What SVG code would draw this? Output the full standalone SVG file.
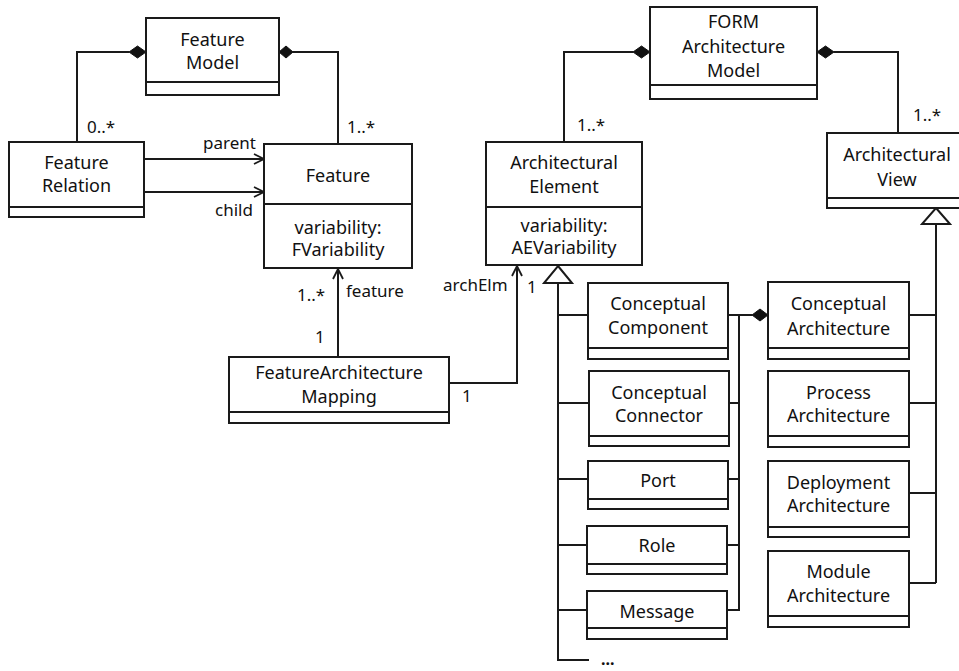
<svg xmlns="http://www.w3.org/2000/svg" width="959" height="671" viewBox="0 0 959 671">
<defs>
<style>
.box{fill:#fff;stroke:#1a1a1a;stroke-width:2}
.div{stroke:#1a1a1a;stroke-width:2}
.t{font-family:"Noto Sans","Open Sans",sans-serif;font-size:18px;fill:#111;text-anchor:middle}
.l{font-family:"Noto Sans","Open Sans",sans-serif;font-size:17px;fill:#111}
.c{fill:none;stroke:#1a1a1a;stroke-width:2}
.dia{fill:#111;stroke:#111;stroke-width:1}
.tri{fill:#fff;stroke:#1a1a1a;stroke-width:2}
</style>
<marker id="open" viewBox="0 0 12 12" refX="11" refY="6" markerWidth="12" markerHeight="12" markerUnits="userSpaceOnUse" orient="auto">
<path d="M1,1 L11,6 L1,11" fill="none" stroke="#1a1a1a" stroke-width="1.8"/>
</marker>
</defs>
<rect width="959" height="671" fill="#fff"/>

<g id="connectors">
<polygon class="dia" points="129,52 137.5,46 146,52 137.5,58"/>
<polyline class="c" points="129,52 77,52 77,142"/>
<polygon class="dia" points="279,52 286,46 293,52 286,58"/>
<polyline class="c" points="293,52 338,52 338,144"/>
<line class="c" x1="144" y1="159" x2="264" y2="159" marker-end="url(#open)"/>
<line class="c" x1="144" y1="192" x2="264" y2="192" marker-end="url(#open)"/>
<line class="c" x1="338" y1="357" x2="338" y2="269" marker-end="url(#open)"/>
<polyline class="c" points="449,383 517,383 517,266" marker-end="url(#open)"/>
<polygon class="dia" points="633,52 641.5,46 650,52 641.5,58"/>
<polyline class="c" points="633,52 564,52 564,142"/>
<polygon class="dia" points="817,52 825.5,46 834,52 825.5,58"/>
<polyline class="c" points="834,52 898,52 898,133"/>
<polyline class="c" points="558,283 558,660 589,660"/>
<line class="c" x1="558" y1="315" x2="588" y2="315"/>
<line class="c" x1="558" y1="403" x2="589" y2="403"/>
<line class="c" x1="558" y1="479" x2="588" y2="479"/>
<line class="c" x1="558" y1="545" x2="587" y2="545"/>
<line class="c" x1="558" y1="610" x2="587" y2="610"/>
<polygon class="tri" points="558,266 572,283 544,283"/>
<line class="c" x1="936" y1="224" x2="936" y2="583"/>
<line class="c" x1="909" y1="315" x2="936" y2="315"/>
<line class="c" x1="909" y1="403" x2="936" y2="403"/>
<line class="c" x1="909" y1="493" x2="936" y2="493"/>
<line class="c" x1="909" y1="583" x2="936" y2="583"/>
<polygon class="tri" points="936,208 950,224 922,224"/>
<line class="c" x1="728" y1="315" x2="752" y2="315"/>
<polygon class="dia" points="752,315 760,309 768,315 760,321"/>
<polyline class="c" points="739,315 739,610 727,610"/>
<line class="c" x1="729" y1="403" x2="739" y2="403"/>
<line class="c" x1="728" y1="479" x2="739" y2="479"/>
<line class="c" x1="727" y1="545" x2="739" y2="545"/>
<text class="l" x="87" y="133">0..*</text>
<text class="l" x="347" y="133">1..*</text>
<text class="l" x="203" y="149">parent</text>
<text class="l" x="215" y="216">child</text>
<text class="l" x="297" y="301">1..*</text>
<text class="l" x="346" y="297">feature</text>
<text class="l" x="315" y="343">1</text>
<text class="l" x="462" y="402">1</text>
<text class="l" x="443" y="291">archElm</text>
<text class="l" x="527" y="293">1</text>
<text class="l" x="577" y="131">1..*</text>
<text class="l" x="913" y="121">1..*</text>
<text class="l" x="601" y="665" style="font-weight:bold;font-size:16px">...</text>
</g>

<g id="FeatureModel">
<rect class="box" x="146" y="18" width="133" height="77"/>
<line class="div" x1="146" y1="82" x2="279" y2="82"/>
<text class="t" x="212.5" y="46">Feature</text>
<text class="t" x="212.5" y="69">Model</text>
</g>
<g id="FeatureRelation">
<rect class="box" x="9" y="142" width="135" height="75"/>
<line class="div" x1="9" y1="207" x2="144" y2="207"/>
<text class="t" x="76.5" y="169">Feature</text>
<text class="t" x="76.5" y="192">Relation</text>
</g>
<g id="Feature">
<rect class="box" x="264" y="144" width="148" height="124"/>
<line class="div" x1="264" y1="204" x2="412" y2="204"/>
<text class="t" x="338" y="182">Feature</text>
<text class="t" x="338" y="234">variability:</text>
<text class="t" x="338" y="256">FVariability</text>
</g>
<g id="FeatureArchitectureMapping">
<rect class="box" x="229" y="357" width="220" height="66"/>
<line class="div" x1="229" y1="412" x2="449" y2="412"/>
<text class="t" x="339" y="379">FeatureArchitecture</text>
<text class="t" x="339" y="403">Mapping</text>
</g>
<g id="FORMArchitectureModel">
<rect class="box" x="650" y="7" width="167" height="92"/>
<line class="div" x1="650" y1="85" x2="817" y2="85"/>
<text class="t" x="733.5" y="28">FORM</text>
<text class="t" x="733.5" y="53">Architecture</text>
<text class="t" x="733.5" y="77">Model</text>
</g>
<g id="ArchitecturalElement">
<rect class="box" x="486" y="142" width="156" height="123"/>
<line class="div" x1="486" y1="207" x2="642" y2="207"/>
<text class="t" x="564" y="169">Architectural</text>
<text class="t" x="564" y="193">Element</text>
<text class="t" x="564" y="232">variability:</text>
<text class="t" x="564" y="254">AEVariability</text>
</g>
<g id="ArchitecturalView">
<rect class="box" x="827" y="133" width="140" height="75"/>
<line class="div" x1="827" y1="198" x2="967" y2="198"/>
<text class="t" x="897" y="161">Architectural</text>
<text class="t" x="897" y="186">View</text>
</g>
<g id="ConceptualComponent">
<rect class="box" x="588" y="283" width="140" height="76"/>
<line class="div" x1="588" y1="348" x2="728" y2="348"/>
<text class="t" x="658" y="310">Conceptual</text>
<text class="t" x="658" y="334">Component</text>
</g>
<g id="ConceptualConnector">
<rect class="box" x="589" y="371" width="140" height="75"/>
<line class="div" x1="589" y1="436" x2="729" y2="436"/>
<text class="t" x="659" y="399">Conceptual</text>
<text class="t" x="659" y="422">Connector</text>
</g>
<g id="Port">
<rect class="box" x="588" y="461" width="140" height="48"/>
<line class="div" x1="588" y1="499" x2="728" y2="499"/>
<text class="t" x="658" y="487">Port</text>
</g>
<g id="Role">
<rect class="box" x="587" y="526" width="140" height="48"/>
<line class="div" x1="587" y1="564" x2="727" y2="564"/>
<text class="t" x="657" y="552">Role</text>
</g>
<g id="Message">
<rect class="box" x="587" y="591" width="140" height="48"/>
<line class="div" x1="587" y1="628" x2="727" y2="628"/>
<text class="t" x="657" y="618">Message</text>
</g>
<g id="ConceptualArchitecture">
<rect class="box" x="768" y="282" width="141" height="77"/>
<line class="div" x1="768" y1="348" x2="909" y2="348"/>
<text class="t" x="838.5" y="310">Conceptual</text>
<text class="t" x="838.5" y="335">Architecture</text>
</g>
<g id="ProcessArchitecture">
<rect class="box" x="768" y="371" width="141" height="76"/>
<line class="div" x1="768" y1="436" x2="909" y2="436"/>
<text class="t" x="838.5" y="399">Process</text>
<text class="t" x="838.5" y="422">Architecture</text>
</g>
<g id="DeploymentArchitecture">
<rect class="box" x="768" y="461" width="141" height="76"/>
<line class="div" x1="768" y1="527" x2="909" y2="527"/>
<text class="t" x="838.5" y="489">Deployment</text>
<text class="t" x="838.5" y="512">Architecture</text>
</g>
<g id="ModuleArchitecture">
<rect class="box" x="768" y="551" width="141" height="76"/>
<line class="div" x1="768" y1="616" x2="909" y2="616"/>
<text class="t" x="838.5" y="578">Module</text>
<text class="t" x="838.5" y="602">Architecture</text>
</g>
</svg>
